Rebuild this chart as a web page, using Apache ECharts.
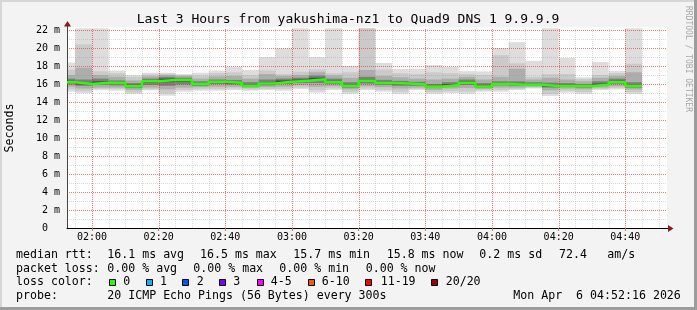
<!DOCTYPE html>
<html>
<head>
<meta charset="utf-8">
<script src="https://cdn.jsdelivr.net/npm/echarts@6/dist/echarts.min.js"></script>
<style>
html,body{margin:0;padding:0;background:#f3f3f3;}
#chart{width:697px;height:310px;}
</style>
</head>
<body>
<div id="chart"></div>
<script>
// ---------------- data ----------------
const axisStart = '01:52:30';
const axisEnd   = '04:52:30';
// end time of each 300 s step (each step is drawn from the previous end to this end)
const slotEnd = ['01:55','02:00','02:05','02:10','02:15','02:20','02:25','02:30','02:35','02:40','02:45','02:50',
  '02:55','03:00','03:05','03:10','03:15','03:20','03:25','03:30','03:35','03:40','03:45','03:50','03:55',
  '04:00','04:05','04:10','04:15','04:20','04:25','04:30','04:35','04:40','04:45'];
// sorted ping RTTs (ms) per step: lowest, 2nd, 4th, 7th, 9th, median, 12th, 14th, 17th, 19th, highest
const pMin = [15.15,14.96,15.3,15.26,14.9,15.3,14.7,15.15,15.26,15.26,15.33,15.26,15.33,15.26,15.45,15.04,15.33,14.9,15.33,15.15,14.9,15.33,14.9,15.0,14.9,15.15,15.15,15.33,15.5,14.67,15.04,14.9,15.33,15.4,14.9];
const p2   = [15.4,15.2,15.45,15.45,15.05,15.4,14.95,15.35,15.45,15.45,15.5,15.4,15.45,15.45,15.6,15.3,15.5,15.1,15.5,15.35,15.15,15.45,15.1,15.2,15.15,15.3,15.35,15.45,15.6,14.9,15.25,15.1,15.45,15.55,15.1];
const p4   = [15.7,15.5,15.6,15.6,15.35,15.6,15.4,15.6,15.65,15.7,15.7,15.55,15.65,15.7,15.85,15.7,15.75,15.4,15.75,15.65,15.5,15.6,15.35,15.5,15.55,15.45,15.6,15.6,15.7,15.3,15.5,15.4,15.6,15.75,15.4];
const p7   = [15.95,15.8,15.9,15.85,15.55,15.9,15.8,15.95,15.8,16.0,15.95,15.7,15.85,16.0,16.1,16.1,16.0,15.6,16.05,15.9,15.8,15.8,15.55,15.75,15.9,15.6,15.85,15.8,15.85,15.6,15.7,15.6,15.8,16.0,15.6];
const p9   = [16.1,15.95,16.05,16.0,15.7,16.15,16.2,16.25,15.95,16.15,16.05,15.75,15.95,16.15,16.3,16.4,16.1,15.75,16.25,16.05,15.95,15.9,15.65,15.85,16.05,15.68,15.95,15.9,15.9,15.72,15.75,15.7,15.88,16.12,15.7];
const median = [16.2,16.0,16.15,16.1,15.75,16.3,16.45,16.45,16.0,16.26,16.15,15.8,16.05,16.26,16.37,16.52,16.2,15.8,16.35,16.1,16.05,15.95,15.7,15.9,16.15,15.72,16.0,15.93,15.92,15.78,15.78,15.78,15.93,16.2,15.78];
const p12  = [16.35,16.15,16.3,16.2,15.9,16.4,16.6,16.55,16.1,16.35,16.25,15.95,16.2,16.4,16.5,16.7,16.35,15.95,16.5,16.2,16.15,16.05,15.8,16.0,16.3,15.85,16.1,16.05,16.0,15.9,15.9,15.85,16.05,16.35,15.9];
const p14  = [16.6,16.5,16.6,16.4,16.1,16.6,16.8,16.7,16.3,16.5,16.45,16.2,16.5,16.6,16.7,16.95,16.6,16.2,16.8,16.45,16.35,16.25,16.0,16.2,16.5,16.1,16.3,16.3,16.2,16.15,16.1,16.0,16.3,16.6,16.2];
const p17  = [17.0,17.8,17.0,16.8,16.4,16.85,17.0,16.9,16.6,16.85,16.9,16.6,17.1,16.9,17.0,17.3,16.95,16.7,17.56,16.9,16.75,16.6,16.5,16.6,16.8,16.5,16.8,17.7,16.5,16.7,16.5,16.3,16.7,16.9,17.3];
const p19  = [17.6,20.4,17.4,17.2,16.8,17.05,17.15,17.0,16.95,17.2,17.3,17.0,17.5,17.1,17.35,17.6,17.2,17.3,22.5,17.6,17.2,17.1,17.3,17.2,17.1,17.0,19.2,18.3,16.8,17.1,17.1,16.55,17.0,17.2,18.25];
const pMax = [18.37,22.5,22.5,17.5,17.0,17.26,17.26,17.1,17.26,17.5,17.9,17.56,19.0,19.96,22.5,19.0,22.5,18.0,22.5,18.35,17.67,17.7,18.1,17.9,17.42,17.4,20.0,20.65,18.58,22.5,18.9,16.74,18.45,17.44,22.5];

// tick labels
const xMajorLabels = ['02:00','02:20','02:40','03:00','03:20','03:40','04:00','04:20','04:40'];
const yTicks = [0,2,4,6,8,10,12,14,16,18,20,22];
const yTickLabels = ['0  ','2 m','4 m','6 m','8 m','10 m','12 m','14 m','16 m','18 m','20 m','22 m'];

// legend texts
const titleText = 'Last 3 Hours from yakushima-nz1 to Quad9 DNS 1 9.9.9.9';
const rttItems = ['median rtt:','16.1 ms avg','16.5 ms max','15.7 ms min','15.8 ms now','0.2 ms sd','72.4','am/s'];
const lossItems = ['packet loss:','0.00 % avg','0.00 % max','0.00 % min','0.00 % now'];
const lossColorLabels = ['0','1','2','3','4-5','6-10','11-19','20/20'];
const lossColors = ['#26ff00','#00b8ff','#0059ff','#7e00ff','#ff00ff','#ff5500','#ff0000','#a10000'];
const probeItems = ['probe:','20 ICMP Echo Pings (56 Bytes) every 300s','Mon Apr  6 04:52:16 2026'];

// ---------------- helpers / layout ----------------
function toMin(s){ const p = s.split(':').map(Number); return p[0]*60 + p[1] + (p[2]||0)/60; }
function fmtHM(v){ const h = Math.floor(v/60), m = Math.round(v - h*60); return String(h).padStart(2,'0')+':'+String(m).padStart(2,'0'); }
const X_MIN = toMin(axisStart), X_MAX = toMin(axisEnd);
const Y_MAX = 22, Y_CAP = 22.2;
const endMin = slotEnd.map(toMin);
const startMin = endMin.map((e,i)=> i===0 ? X_MIN : endMin[i-1]);
const xMajorVals = xMajorLabels.map(toMin);

const MONO = '"DejaVu Sans Mono", "Liberation Mono", monospace';
const MAJOR_COL = 'rgba(232,40,40,0.62)';
const MINOR_COL = 'rgba(143,143,143,0.32)';

const bands = [[pMin,pMax],[p2,p19],[p4,p17],[p7,p14],[p9,p12]];
const bandColors = ['#dddddd','#cacaca','#adadad','#7e7e7e','#4a4a4a'];
const smokeData = [];
bands.forEach((b,bi)=>{ for(let i=0;i<slotEnd.length;i++) smokeData.push([startMin[i], endMin[i], b[0][i], b[1][i], bi]); });

const medianData = median.map((v,i)=>[startMin[i], v]);
medianData.push([endMin[endMin.length-1], median[median.length-1]]);

// grid lines: vertical every 5 minutes (major every 20), horizontal every 1 ms (major every 2)
const gridLines = [];
for (let t = Math.ceil(X_MIN/5)*5; t < X_MAX; t += 5) gridLines.push([0, t, xMajorVals.indexOf(t) >= 0 ? 1 : 0]);
for (let v = 1; v <= Y_MAX; v += 1) gridLines.push([1, v, yTicks.indexOf(v) >= 0 ? 1 : 0]);

// ---------------- graphics (frame, texts, legend) ----------------
const G = [];
G.push({type:'rect', shape:{x:0,y:0,width:697,height:2}, style:{fill:'#d6d6d6'}, silent:true});
G.push({type:'rect', shape:{x:0,y:0,width:2,height:310}, style:{fill:'#d6d6d6'}, silent:true});
G.push({type:'rect', shape:{x:694,y:0,width:3,height:310}, style:{fill:'#9c9c9c'}, silent:true});
G.push({type:'rect', shape:{x:0,y:307,width:697,height:3}, style:{fill:'#9c9c9c'}, silent:true});
G.push({type:'rect', shape:{x:67,y:27,width:600,height:3}, style:{fill:'#ffffff'}, z:-1, silent:true});
G.push({type:'text', x:348, y:20, style:{text:titleText, font:'13px '+MONO, fill:'#000', align:'center', verticalAlign:'middle'}});
G.push({type:'text', x:10, y:128, rotation:Math.PI/2, style:{text:'Seconds', font:'11.6px '+MONO, fill:'#000', align:'center', verticalAlign:'middle'}});
G.push({type:'text', x:688, y:59, rotation:-Math.PI/2, style:{text:'RRDTOOL / TOBI OETIKER', font:'8px '+MONO, fill:'#a8a8a8', align:'center', verticalAlign:'middle'}});
// axis extensions and arrows
G.push({type:'line', shape:{x1:67.5,y1:30,x2:67.5,y2:23}, style:{stroke:'#444',lineWidth:1}, z:10});
G.push({type:'polygon', shape:{points:[[67.5,21],[64,26.5],[71,26.5]]}, style:{fill:'#8b1a1a'}, z:11});
G.push({type:'line', shape:{x1:667,y1:228.5,x2:670,y2:228.5}, style:{stroke:'#000',lineWidth:1}, z:10});
G.push({type:'polygon', shape:{points:[[673.5,228.5],[668,225],[668,232]]}, style:{fill:'#8b1a1a'}, z:11});

const LFONT = '11.6px ' + MONO;
function ltext(x, y, s){ G.push({type:'text', x:x, y:y, style:{text:s, font:LFONT, fill:'#000', align:'left', verticalAlign:'middle'}}); }
const rttX = [16,107.3,200,293.3,386.7,479.3,559,607.3];
rttItems.forEach((s,i)=>ltext(rttX[i], 254.5, s));
const lossX = [16,107.3,193.3,279.3,365.7];
lossItems.forEach((s,i)=>ltext(lossX[i], 268.5, s));
ltext(16, 282.3, 'loss color:');
const boxX = [109,146,182,219,257,308,365,431];
const lblX = [123.3,160,196.7,233.3,270.7,321.7,380.7,445.7];
lossColorLabels.forEach((s,i)=>{
  G.push({type:'rect', shape:{x:boxX[i]+0.5, y:279.5, width:6, height:6}, style:{fill:lossColors[i], stroke:'#000', lineWidth:1}});
  ltext(lblX[i], 282.3, s);
});
const probeX = [16,107.3,513.3];
probeItems.forEach((s,i)=>ltext(probeX[i], 296, s));

// ---------------- chart ----------------
const chart = echarts.init(document.getElementById('chart'), null, {renderer:'canvas'});
chart.setOption({
  animation:false,
  backgroundColor:'#f3f3f3',
  grid:{left:67, top:30, width:600, height:198, show:true, backgroundColor:'#ffffff', borderWidth:0, containLabel:false, outerBoundsMode:'none'},
  xAxis:{
    type:'value', min:X_MIN, max:X_MAX, z:5,
    axisLine:{show:true, onZero:false, lineStyle:{color:'#000', width:1}},
    axisTick:{show:true, customValues:xMajorVals, length:3, lineStyle:{color:'#d86a6a'}},
    axisLabel:{show:true, customValues:xMajorVals, formatter:v=>fmtHM(v), fontFamily:MONO, fontSize:10, color:'#000', margin:4},
    splitLine:{show:false}
  },
  yAxis:{
    type:'value', min:0, max:Y_MAX, interval:2, z:5,
    axisLine:{show:true, lineStyle:{color:'#444', width:1}},
    axisTick:{show:false},
    splitLine:{show:false},
    axisLabel:{formatter:v=>{ const i = yTicks.indexOf(v); return i>=0 ? yTickLabels[i] : ''; }, fontFamily:MONO, fontSize:10, color:'#000', margin:7}
  },
  series:[
    {
      type:'custom', name:'smoke', z:2, silent:true, clip:false,
      encode:{x:[0,1], y:[2,3]},
      data:smokeData,
      renderItem:function(params, api){
        const t0 = api.value(0), t1 = api.value(1);
        const lo = api.value(2), hi = Math.min(api.value(3), Y_CAP);
        const a = api.coord([t0, hi]), b = api.coord([t1, lo]);
        return {type:'rect', shape:{x:a[0], y:a[1], width:b[0]-a[0], height:b[1]-a[1]}, style:{fill:bandColors[api.value(4)]}};
      }
    },
    {
      type:'custom', name:'grid', z:4, silent:true, clip:false,
      encode:{},
      data:gridLines,
      renderItem:function(params, api){
        const dir = api.value(0), v = api.value(1);
        const col = api.value(2) ? MAJOR_COL : MINOR_COL;
        let shape;
        if (dir === 0) {
          const p0 = api.coord([v, 0]), p1 = api.coord([v, Y_CAP]);
          const x = Math.round(p0[0]) + 0.5;
          shape = {x1:x, y1:p0[1], x2:x, y2:p1[1]};
        } else {
          const p0 = api.coord([X_MIN, v]), p1 = api.coord([X_MAX, v]);
          const y = Math.round(p0[1]) + 0.5;
          shape = {x1:p0[0], y1:y, x2:p1[0], y2:y};
        }
        return {type:'line', shape:shape, style:{stroke:col, lineWidth:1, lineDash:[1,1]}};
      }
    },
    {
      type:'line', name:'median', z:6, silent:true,
      data:medianData, step:'end', showSymbol:false, symbol:'none',
      lineStyle:{color:'#26ff00', width:2.5}
    }
  ],
  graphic:G
});
</script>
</body>
</html>
